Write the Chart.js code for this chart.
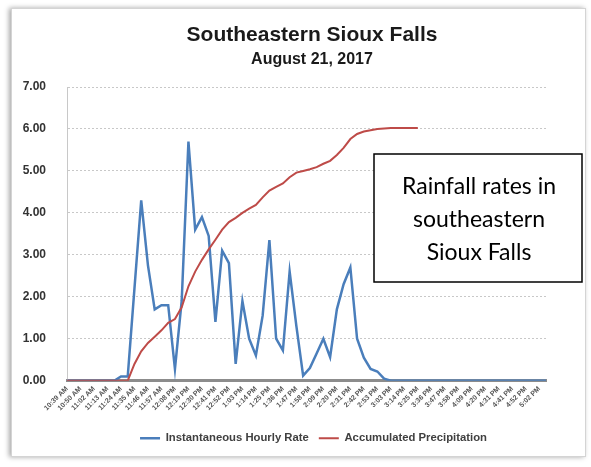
<!DOCTYPE html>
<html>
<head>
<meta charset="utf-8">
<script src="https://cdn.jsdelivr.net/npm/chart.js@4.4.0/dist/chart.umd.min.js"></script>
<style>
  html, body { margin: 0; padding: 0; background: #fff; }
  #wrap { width: 591px; height: 467px; position: relative; }
</style>
</head>
<body>
<div id="wrap"><canvas id="rainChart"></canvas></div>
<script>
// readings every ~5.5 minutes, every other one is labelled on the axis
var times = [
  '10:39 AM','10:44 AM','10:50 AM','10:56 AM','11:02 AM','11:07 AM','11:13 AM','11:18 AM',
  '11:24 AM','11:29 AM','11:35 AM','11:40 AM','11:46 AM','11:51 AM','11:57 AM','12:02 PM',
  '12:08 PM','12:13 PM','12:19 PM','12:24 PM','12:30 PM','12:35 PM','12:41 PM','12:46 PM',
  '12:52 PM','12:57 PM','1:03 PM','1:08 PM','1:14 PM','1:19 PM','1:25 PM','1:30 PM',
  '1:36 PM','1:41 PM','1:47 PM','1:52 PM','1:58 PM','2:03 PM','2:09 PM','2:14 PM',
  '2:20 PM','2:25 PM','2:31 PM','2:36 PM','2:42 PM','2:47 PM','2:53 PM','2:58 PM',
  '3:03 PM','3:08 PM','3:14 PM','3:19 PM','3:25 PM','3:30 PM','3:36 PM','3:41 PM',
  '3:47 PM','3:52 PM','3:58 PM','4:03 PM','4:09 PM','4:14 PM','4:20 PM','4:25 PM',
  '4:31 PM','4:36 PM','4:41 PM','4:46 PM','4:52 PM','4:57 PM','5:02 PM','5:07 PM'
];

var hourlyRate = [
  0, 0, 0, 0, 0, 0, 0, 0,
  0.1, 0.1, 2.2, 4.3, 2.75, 1.7, 1.8, 1.8,
  0.28, 1.9, 5.7, 3.6, 3.9, 3.45, 1.4, 3.1,
  2.8, 0.4, 1.9, 1.0, 0.6, 1.55, 3.35, 1.0,
  0.72, 2.6, 1.3, 0.12, 0.3, 0.65, 1.0, 0.56,
  1.7, 2.3, 2.7, 1.0, 0.55, 0.28, 0.22, 0.05,
  0, 0, 0, 0, 0, 0, 0, 0,
  0, 0, 0, 0, 0, 0, 0, 0,
  0, 0, 0, 0, 0, 0, 0, 0
];

var accumulated = [
  0, 0, 0, 0, 0, 0, 0, 0,
  0, 0, 0.4, 0.7, 0.9, 1.05, 1.2, 1.38,
  1.47, 1.75, 2.25, 2.6, 2.88, 3.13, 3.36, 3.6,
  3.78, 3.88, 4.0, 4.1, 4.19, 4.37, 4.53, 4.62,
  4.7, 4.85, 4.96, 5.0, 5.04, 5.09, 5.17, 5.24,
  5.38, 5.55, 5.76, 5.88, 5.94, 5.97, 6.0, 6.01,
  6.02, 6.02, 6.02, 6.02, 6.02, null, null, null,
  null, null, null, null, null, null, null, null,
  null, null, null, null, null, null, null, null
];

var seriesNames = ['Instantaneous Hourly Rate', 'Accumulated Precipitation'];
var titleText = 'Southeastern Sioux Falls';
var subtitleText = 'August 21, 2017';
var noteLines = ['Rainfall rates in', 'southeastern', 'Sioux Falls'];

var font = 'Liberation Sans';

// frame, headings and the text box
var decor = {
  id: 'decor',
  afterLayout: function(chart) {
    // legend sits a little right of the plot centre in the original
    if (chart.legend) {
      chart.legend.left += 7;
      chart.legend.right += 7;
    }
  },
  beforeDraw: function(chart) {
    var c = chart.ctx;
    c.save();
    c.fillStyle = '#fff';
    c.fillRect(0, 0, chart.width, chart.height);
    c.shadowColor = 'rgba(0,0,0,0.35)';
    c.shadowBlur = 5;
    c.shadowOffsetX = -2;
    c.fillRect(11, 8, 575, 449);
    c.shadowColor = 'transparent';
    c.strokeStyle = '#d4d4d4';
    c.lineWidth = 1;
    c.strokeRect(11.5, 8.5, 574, 448);
    c.restore();
  },
  afterDraw: function(chart) {
    var c = chart.ctx;
    c.save();
    c.fillStyle = '#1a1a1a';
    c.textAlign = 'center';
    c.textBaseline = 'middle';
    c.font = 'bold 21px "' + font + '"';
    c.fillText(titleText, 312, 35);
    c.font = 'bold 16px "' + font + '"';
    c.fillText(subtitleText, 312, 60);

    c.fillStyle = '#fff';
    c.fillRect(374, 154, 208, 128);
    c.strokeStyle = '#000';
    c.lineWidth = 1.5;
    c.strokeRect(374, 154, 208, 128);
    c.fillStyle = '#000';
    c.font = '23px Lato';
    noteLines.forEach(function(t, i) {
      c.fillText(t, 479, 187 + i * 33);
    });
    c.restore();
  }
};

var ctx = document.getElementById('rainChart').getContext('2d');
var chart = new Chart(ctx, {
  type: 'line',
  data: {
    labels: times,
    datasets: [{
      label: seriesNames[0],
      data: hourlyRate,
      borderColor: '#4A7EBB',
      backgroundColor: '#4A7EBB',
      borderWidth: 2.5,
      pointRadius: 0,
      tension: 0,
      order: 2
    }, {
      label: seriesNames[1],
      data: accumulated,
      borderColor: '#BE4B48',
      backgroundColor: '#BE4B48',
      borderWidth: 2,
      pointRadius: 0,
      tension: 0,
      order: 1
    }]
  },
  options: {
    responsive: true,
    maintainAspectRatio: false,
    animation: false,
    layout: {
      padding: { left: 10, right: 45, top: 87, bottom: 13 }
    },
    plugins: {
      tooltip: { enabled: false },
      legend: {
        position: 'bottom',
        fullSize: false,
        labels: {
          usePointStyle: true,
          pointStyle: 'line',
          pointStyleWidth: 20,
          boxHeight: 12,
          padding: 10,
          color: '#404040',
          font: { family: font, size: 11.3, weight: 'bold' },
          sort: function(a, b) { return a.datasetIndex - b.datasetIndex; }
        }
      }
    },
    scales: {
      x: {
        grid: { display: false, drawTicks: false },
        border: { color: '#8c8c8c', width: 3 },
        ticks: {
          autoSkip: false,
          minRotation: 45,
          maxRotation: 45,
          padding: 4,
          color: '#555',
          font: { family: font, size: 7, weight: 'bold' },
          callback: function(v, i) { return i % 2 ? '' : this.getLabelForValue(v); }
        },
        afterFit: function(s) { s.height = 42; }
      },
      y: {
        min: 0,
        max: 7,
        ticks: {
          stepSize: 1,
          padding: 21,
          color: '#333',
          font: { family: font, size: 12, weight: 'bold' },
          callback: function(v) { return v.toFixed(2); }
        },
        grid: { color: '#c8c8c8', drawTicks: false },
        border: { color: '#c8c8c8', dash: [2, 2] },
        afterFit: function(s) { s.width = 57; }
      }
    }
  },
  plugins: [decor]
});
</script>
</body>
</html>
